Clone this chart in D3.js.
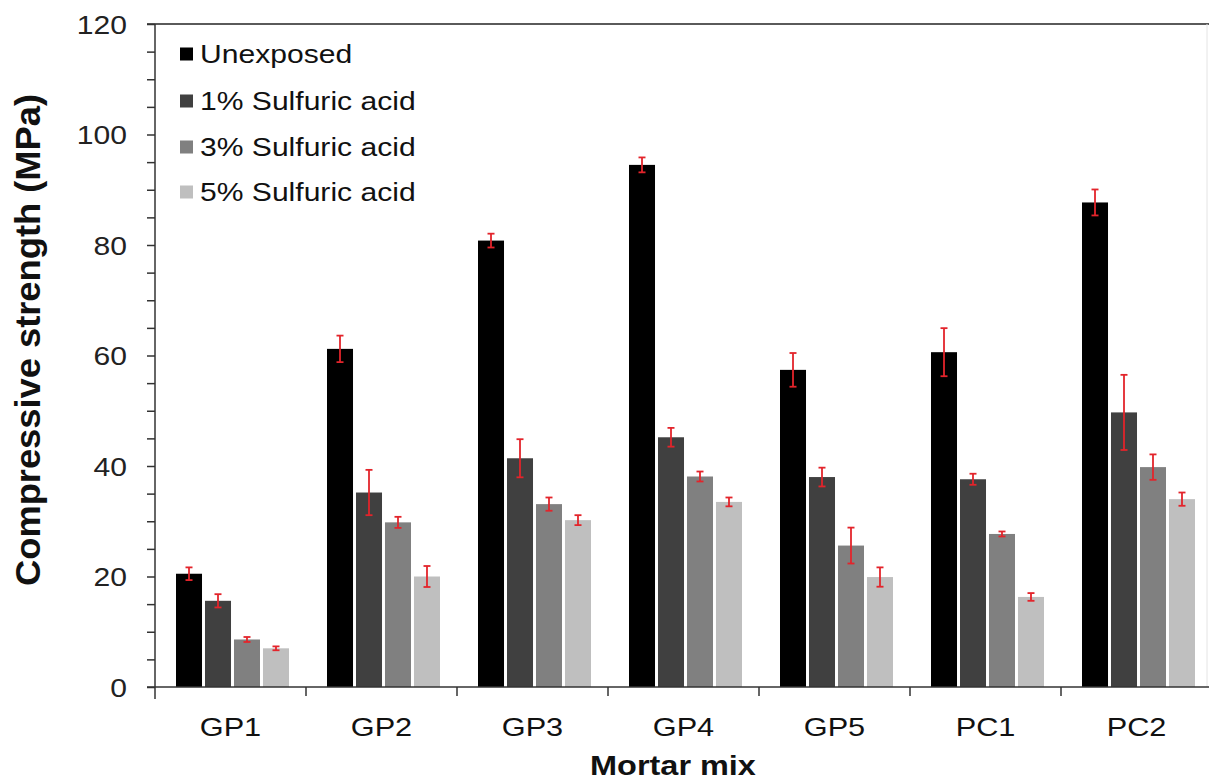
<!DOCTYPE html>
<html>
<head>
<meta charset="utf-8">
<script src="https://cdn.jsdelivr.net/npm/d3@7"></script>
<style>
  html, body { margin: 0; padding: 0; background: #fff; }
  svg { display: block; font-family: "Liberation Sans", Arial, sans-serif; }
</style>
</head>
<body>
<svg id="chart" width="1209" height="780"></svg>
<script>
// Mortar mixes and exposure conditions
const categories = ["GP1", "GP2", "GP3", "GP4", "GP5", "PC1", "PC2"];
const series = ["Unexposed", "1% Sulfuric acid", "3% Sulfuric acid", "5% Sulfuric acid"];
const seriesColors = ["#000000", "#404040", "#808080", "#bfbfbf"];

// Mean compressive strength (MPa)
const unexposed = [20.5, 61.2, 80.8, 94.5, 57.4, 60.6, 87.7];
const acid1 = [15.6, 35.2, 41.4, 45.2, 38.0, 37.6, 49.7];
const acid3 = [8.6, 29.8, 33.1, 38.1, 25.6, 27.7, 39.8];
const acid5 = [7.0, 20.0, 30.2, 33.5, 19.9, 16.3, 34.0];

// Standard deviation (MPa)
const errUnexposed = [1.15, 2.4, 1.25, 1.35, 3.05, 4.35, 2.35];
const errAcid1 = [1.2, 4.1, 3.45, 1.7, 1.7, 1.0, 6.8];
const errAcid3 = [0.45, 1.0, 1.2, 0.9, 3.25, 0.45, 2.3];
const errAcid5 = [0.35, 1.9, 0.9, 0.8, 1.75, 0.7, 1.2];

const yTicks = [0, 20, 40, 60, 80, 100, 120];

const values = [unexposed, acid1, acid3, acid5];
const errors = [errUnexposed, errAcid1, errAcid3, errAcid5];

const rows = [];
categories.forEach((c, i) => {
  series.forEach((s, j) => {
    rows.push({ cat: c, ser: s, idx: j, v: values[j][i], e: errors[j][i] });
  });
});

const svg = d3.select("#chart");
const SX = 1.18; // horizontal text stretch

const plotLeft = 155, plotTop = 24, plotBottom = 687, plotRight = 1212;

const x0 = d3.scaleBand().domain(categories).range([plotLeft, plotRight]).padding(0);
const x1 = d3.scaleBand().domain(series).range([21, 134]).paddingInner(0.103).paddingOuter(0);
const y = d3.scaleLinear().domain([0, 120]).range([plotBottom, plotTop]);

// frame: top border and faint right border
svg.append("line").attr("x1", 147).attr("x2", 1209).attr("y1", plotTop).attr("y2", plotTop)
  .attr("stroke", "#5a5a5a").attr("stroke-width", 2);
svg.append("line").attr("x1", 1207).attr("x2", 1207).attr("y1", plotTop).attr("y2", plotBottom)
  .attr("stroke", "#e4e4e4").attr("stroke-width", 1);

// bars
svg.append("g").selectAll("rect").data(rows).join("rect")
  .attr("x", d => x0(d.cat) + x1(d.ser))
  .attr("width", x1.bandwidth())
  .attr("y", d => y(d.v))
  .attr("height", d => y(0) - y(d.v))
  .attr("fill", d => seriesColors[d.idx]);

// error bars
const eg = svg.append("g").attr("stroke", "#e3242b").attr("stroke-width", 1.8).attr("fill", "none");
const ex = d => x0(d.cat) + x1(d.ser) + x1.bandwidth() / 2;
eg.selectAll("line.v").data(rows).join("line").attr("class", "v")
  .attr("x1", ex).attr("x2", ex)
  .attr("y1", d => y(d.v + d.e)).attr("y2", d => y(d.v - d.e));
eg.selectAll("line.t").data(rows).join("line").attr("class", "t")
  .attr("x1", d => ex(d) - 3.5).attr("x2", d => ex(d) + 3.5)
  .attr("y1", d => y(d.v + d.e)).attr("y2", d => y(d.v + d.e));
eg.selectAll("line.b").data(rows).join("line").attr("class", "b")
  .attr("x1", d => ex(d) - 3.5).attr("x2", d => ex(d) + 3.5)
  .attr("y1", d => y(d.v - d.e)).attr("y2", d => y(d.v - d.e));

// y axis with minor ticks every 5 MPa
const yAxisG = svg.append("g").attr("transform", `translate(${plotLeft},0)`)
  .call(d3.axisLeft(y).tickValues(d3.range(0, 121, 5)).tickSize(8)
    .tickFormat(d => yTicks.includes(d) ? d : ""));
yAxisG.select(".domain").attr("stroke", "#333").attr("stroke-width", 1.5)
  .attr("d", `M0,${plotTop}V${plotBottom + 12}`);
yAxisG.selectAll(".tick line").attr("stroke", "#333").attr("stroke-width", 1.5);
yAxisG.selectAll(".tick text")
  .attr("x", null).attr("dy", null)
  .attr("font-size", 25.5).attr("fill", "#222")
  .attr("font-family", "'Liberation Sans', Arial, sans-serif")
  .attr("text-anchor", "end")
  .attr("transform", `translate(-28,9) scale(${SX},1)`);

// x axis: ticks at category boundaries
const xAxisG = svg.append("g").attr("transform", `translate(0,${plotBottom})`)
  .call(d3.axisBottom(x0).tickSize(0).tickPadding(0));
xAxisG.select(".domain").attr("stroke", "#333").attr("stroke-width", 1.5)
  .attr("d", `M147,0H1209`);
xAxisG.selectAll(".tick text")
  .attr("y", null).attr("dy", null)
  .attr("font-size", 26).attr("fill", "#111")
  .attr("font-family", "'Liberation Sans', Arial, sans-serif")
  .attr("transform", `translate(0,49) scale(${SX},1)`);
const bounds = categories.slice(1).map(c => x0(c));
svg.append("g").selectAll("line").data(bounds).join("line")
  .attr("x1", d => d).attr("x2", d => d).attr("y1", plotBottom).attr("y2", plotBottom + 9)
  .attr("stroke", "#333").attr("stroke-width", 1.5);

// axis titles
svg.append("text")
  .attr("transform", `translate(673,775) scale(${SX},1)`)
  .attr("text-anchor", "middle").attr("font-weight", "bold").attr("font-size", 27.5).attr("fill", "#111")
  .text("Mortar mix");
svg.append("text")
  .attr("transform", `translate(40,340) rotate(-90) scale(1.1,1.05)`)
  .attr("text-anchor", "middle").attr("font-weight", "bold").attr("font-size", 33).attr("fill", "#111")
  .text("Compressive strength (MPa)");

// legend
const legendY = [54, 101, 147, 192];
const lg = svg.append("g").selectAll("g").data(series).join("g")
  .attr("transform", (d, i) => `translate(180,${legendY[i]})`);
lg.append("rect").attr("x", 0).attr("y", -6.5).attr("width", 13).attr("height", 13)
  .attr("fill", (d, i) => seriesColors[i]);
lg.append("text").attr("transform", `translate(20,9) scale(${SX},1)`)
  .attr("font-size", 25.5).attr("fill", "#111").text(d => d);
</script>
</body>
</html>
